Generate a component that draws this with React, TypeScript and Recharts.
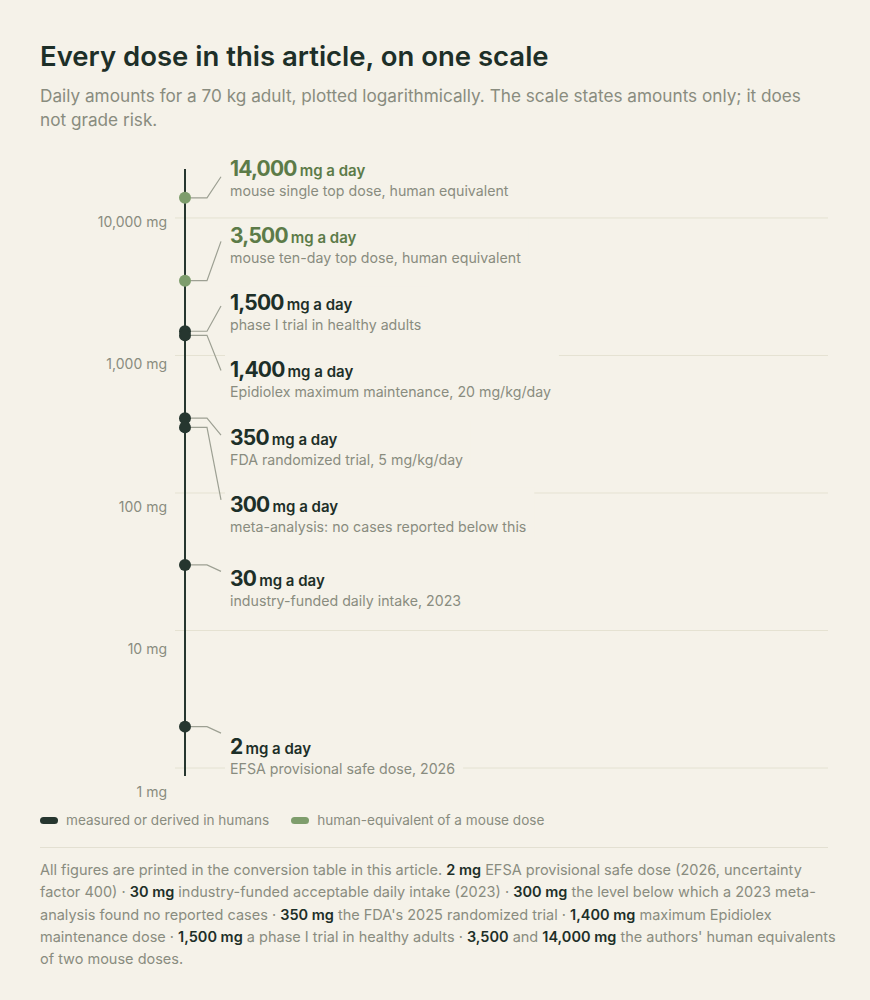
import React from 'react';
import {
  ScatterChart, Scatter, XAxis, YAxis, CartesianGrid, ReferenceLine,
} from 'recharts';

const DOSES = [14000, 3500, 1500, 1400, 350, 300, 30, 2];
const SOURCES = ['mouse', 'mouse', 'human', 'human', 'human', 'human', 'human', 'human'];
const NOTES = [
  'mouse single top dose, human equivalent',
  'mouse ten-day top dose, human equivalent',
  'phase I trial in healthy adults',
  'Epidiolex maximum maintenance, 20 mg/kg/day',
  'FDA randomized trial, 5 mg/kg/day',
  'meta-analysis: no cases reported below this',
  'industry-funded daily intake, 2023',
  'EFSA provisional safe dose, 2026',
];
const Y_TICKS = [1, 10, 100, 1000, 10000];
const Y_DOMAIN = [0.875, 22700];

const FOOTER: [boolean, string][] = [
  [false, 'All figures are printed in the conversion table in this article. '],
  [true, '2 mg'],
  [false, ' EFSA provisional safe dose (2026, uncertainty factor 400) · '],
  [true, '30 mg'],
  [false, ' industry-funded acceptable daily intake (2023) · '],
  [true, '300 mg'],
  [false, ' the level below which a 2023 meta-analysis found no reported cases · '],
  [true, '350 mg'],
  [false, " the FDA's 2025 randomized trial · "],
  [true, '1,400 mg'],
  [false, ' maximum Epidiolex maintenance dose · '],
  [true, '1,500 mg'],
  [false, ' a phase I trial in healthy adults · '],
  [true, '3,500'],
  [false, ' and '],
  [true, '14,000 mg'],
  [false, " the authors' human equivalents of two mouse doses."],
];

const BG = '#f5f2e9';
const DARK = '#1d2f28';
const DOT_DARK = '#26362f';
const GREEN = '#5c7b48';
const DOT_GREEN = '#7e9d6c';
const GREY = '#898c7f';
const FONT = 'Inter, "Noto Sans", sans-serif';

const CHART_TOP = 140;
const CHART_W = 870;
const CHART_H = 670;
const MARGIN = { top: 29, right: 42, bottom: 34, left: 0 };
const PLOT_H = CHART_H - MARGIN.top - MARGIN.bottom;
const PX_PER_DECADE = PLOT_H / Math.log10(Y_DOMAIN[1] / Y_DOMAIN[0]);
const LABEL_GAP = 64.6;

// push overlapping label anchors apart, keeping each group centred on its points
function dodge(ideal: number[], gap: number) {
  const groups: { sum: number; n: number; start: number }[] = [];
  ideal.forEach(v => {
    groups.push({ sum: v, n: 1, start: v });
    while (groups.length > 1) {
      const cur = groups[groups.length - 1];
      const prev = groups[groups.length - 2];
      if (prev.start + prev.n * gap <= cur.start) break;
      prev.sum += cur.sum - prev.n * gap * cur.n;
      prev.n += cur.n;
      prev.start = prev.sum / prev.n;
      groups.pop();
    }
  });
  const out: number[] = [];
  groups.forEach(g => { for (let k = 0; k < g.n; k++) out.push(g.start + k * gap); });
  return out;
}

const dotPx = DOSES.map(d => (Math.log10(Y_DOMAIN[1]) - Math.log10(d)) * PX_PER_DECADE);
const anchors = dodge(dotPx.map(y => y + 6.5), LABEL_GAP);

const data = DOSES.map((dose, i) => ({
  x: 0,
  dose,
  source: SOURCES[i],
  note: NOTES[i],
  shift: anchors[i] - dotPx[i],
}));

let ctx: CanvasRenderingContext2D | null = null;
const measure = (s: string, font: string) => {
  if (!ctx) ctx = document.createElement('canvas').getContext('2d');
  if (!ctx) return s.length * 8;
  ctx.font = font;
  return ctx.measureText(s).width;
};

// text in the original sits on a slightly stretched grid compared with the marks
const textDrift = (svgY: number) => 0.036 * (CHART_TOP + svgY) - 3.9;

const DoseLabel = (props: any) => {
  const { cx, cy, payload } = props;
  if (cx == null || cy == null) return null;
  const ay = cy + payload.shift;
  const top = ay - 17 + (ay - 37) * 0.04;
  const color = payload.source === 'mouse' ? GREEN : DARK;
  const num = payload.dose.toLocaleString('en-US');
  const numW = measure(num, `700 21px ${FONT}`) - num.length * 0.8;
  const unitW = measure('mg a day', `600 15px ${FONT}`);
  const noteW = measure(payload.note, `400 14.2px ${FONT}`);
  const tx = cx + 45;
  const boxW = Math.max(numW + 3 + unitW, noteW) + 13;
  return (
    <g>
      <rect x={cx + 40} y={top - 8} width={boxW} height={50} fill={BG} />
      <path
        d={`M${cx + 6},${cy} H${cx + 22} L${cx + 36},${ay}`}
        fill="none"
        stroke="#9da093"
        strokeWidth={1.2}
      />
      <text x={tx} y={top + 16} fill={color} style={{ fontFamily: FONT }}>
        <tspan fontSize={21} fontWeight={700} letterSpacing={-0.8}>{num}</tspan>
        <tspan fontSize={15} fontWeight={600} dx={3}>mg a day</tspan>
      </text>
      <text x={tx} y={top + 36} fill={GREY} fontSize={14.2} style={{ fontFamily: FONT }}>
        {payload.note}
      </text>
    </g>
  );
};

const DoseDot = (props: any) => {
  const { cx, cy, payload } = props;
  if (cx == null || cy == null) return null;
  return <circle cx={cx} cy={cy} r={6} fill={payload.source === 'mouse' ? DOT_GREEN : DOT_DARK} />;
};

const YTick = (props: any) => {
  const { x, y, payload } = props;
  return (
    <text
      x={x}
      y={y + textDrift(y)}
      dy="0.355em"
      textAnchor="end"
      fill={GREY}
      fontSize={14}
      style={{ fontFamily: FONT }}
    >
      {payload.value.toLocaleString('en-US') + ' mg'}
    </text>
  );
};

const LegendItem: React.FC<{ color: string; text: string }> = ({ color, text }) => (
  <div style={{ display: 'flex', alignItems: 'center', gap: 8 }}>
    <span style={{ width: 18, height: 7, borderRadius: 4, background: color, display: 'inline-block' }} />
    <span style={{ fontSize: 13.6, color: GREY }}>{text}</span>
  </div>
);

export default function App() {
  return (
    <div style={{ position: 'relative', width: 870, height: 1000, background: BG, fontFamily: FONT, overflow: 'hidden' }}>
      <style>{'body{margin:0;background:' + BG + '}'}</style>
      <div style={{ position: 'absolute', left: 40, top: 39, fontSize: 27.5, lineHeight: '34px', fontWeight: 600, color: DARK }}>
        Every dose in this article, on one scale
      </div>
      <div style={{ position: 'absolute', left: 40, top: 84, width: 790, fontSize: 17.2, lineHeight: '24px', color: GREY }}>
        Daily amounts for a 70 kg adult, plotted logarithmically. The scale states amounts only; it does not grade risk.
      </div>

      <div style={{ position: 'absolute', left: 0, top: CHART_TOP }}>
        <ScatterChart width={CHART_W} height={CHART_H} margin={MARGIN}>
          <CartesianGrid horizontal vertical={false} horizontalValues={Y_TICKS} stroke="#e5e2d2" />
          <XAxis type="number" dataKey="x" domain={[0, 1]} hide padding={{ left: 10, right: 0 }} />
          <YAxis
            type="number"
            dataKey="dose"
            scale="log"
            domain={Y_DOMAIN}
            ticks={Y_TICKS}
            width={175}
            axisLine={false}
            tickLine={false}
            tickSize={0}
            tickMargin={8}
            tick={<YTick />}
          />
          <ReferenceLine x={0} stroke={DOT_DARK} strokeWidth={2} />
          <Scatter data={data} shape={DoseLabel} isAnimationActive={false} />
          <Scatter data={data} shape={DoseDot} isAnimationActive={false} />
        </ScatterChart>
      </div>

      <div style={{ position: 'absolute', left: 40, top: 812, display: 'flex', gap: 22 }}>
        <LegendItem color={DOT_DARK} text="measured or derived in humans" />
        <LegendItem color={DOT_GREEN} text="human-equivalent of a mouse dose" />
      </div>

      <div style={{ position: 'absolute', left: 40, top: 847, width: 788, height: 1, background: '#e3e0d2' }} />

      <div style={{ position: 'absolute', left: 40, top: 859, width: 800, fontSize: 14.5, lineHeight: '22.3px', color: GREY }}>
        {FOOTER.map(([bold, t], i) =>
          bold ? <span key={i} style={{ color: DARK, fontWeight: 600 }}>{t}</span> : <span key={i}>{t}</span>
        )}
      </div>
    </div>
  );
}
